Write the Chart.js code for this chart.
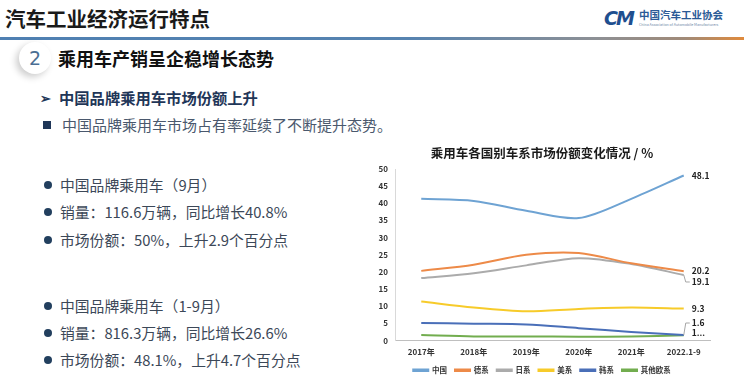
<!DOCTYPE html>
<html>
<head>
<meta charset="utf-8">
<script src="https://cdn.jsdelivr.net/npm/chart.js@4.4.0/dist/chart.umd.min.js"></script>
<style>
  html, body { margin: 0; padding: 0; background: #fff; }
  body { width: 744px; height: 386px; position: relative; overflow: hidden;
         font-family: "Noto Sans CJK SC", "Noto Sans", sans-serif; }
  .abs { position: absolute; white-space: nowrap; }
  #head { left: 5px; top: 3px; font-size: 20.5px; font-weight: bold; color: #1a1a1a; line-height: 30px; }
  #rule { left: 0; top: 37px; width: 744px; height: 3px;
          background: linear-gradient(to right, #4f80b2 0%, #5683b0 55%, #8d9095 80%, #a08a78 92%, #e08a3c 100%); }
  #logoMark { left: 604px; top: 6px; font-size: 19px; font-weight: bold; font-style: italic; color: #1f4f8f;
              font-family: "DejaVu Sans", sans-serif; letter-spacing: -2px; line-height: 24px; }
  #logoCn { left: 639px; top: 8px; font-size: 10.5px; font-weight: bold; color: #2a5a96; line-height: 14px; }
  #logoEn { left: 639px; top: 22px; font-size: 3.6px; color: #6d86a6; line-height: 5px; }
  #badge { left: 19px; top: 42px; width: 32px; height: 32px; border-radius: 50%;
           background: #fff; box-shadow: -3px 3px 7px rgba(0,0,0,0.2);
           text-align: center; line-height: 32px; font-size: 19px; color: #4b6e93; font-family: "DejaVu Sans", sans-serif; }
  #sub { left: 58px; top: 45px; font-size: 18px; font-weight: bold; color: #111; line-height: 26px; }
  #h2 { left: 40px; top: 86px; font-size: 15.3px; font-weight: bold; color: #1f3658; line-height: 22px; }
  #h2 span { font-size: 13px; margin-right: 8px; vertical-align: 1px; }
  #p1 { left: 43px; top: 114px; font-size: 15px; color: #4a586d; line-height: 22px; }
  #p1 span { display: inline-block; width: 8px; height: 8px; background: #1f3658; margin-right: 11px; vertical-align: 2px; }
  .bl { left: 44px; font-size: 14.8px; color: #3c4858; line-height: 22px; }
  .bl i { display: inline-block; width: 8px; height: 8px; border-radius: 50%; background: #223f5e; margin-right: 8px; vertical-align: 2px; }
  #wrap { left: 370px; top: 140px; width: 374px; height: 244px; }
</style>
</head>
<body>
<div class="abs" id="head">汽车工业经济运行特点</div>
<div class="abs" id="logoMark">CM</div>
<div class="abs" id="logoCn">中国汽车工业协会</div>
<div class="abs" id="logoEn">China Association of Automobile Manufacturers</div>
<div class="abs" id="rule"></div>
<div class="abs" id="badge">2</div>
<div class="abs" id="sub">乘用车产销呈企稳增长态势</div>
<div class="abs" id="h2"><span>➢</span>中国品牌乘用车市场份额上升</div>
<div class="abs" id="p1"><span></span>中国品牌乘用车市场占有率延续了不断提升态势。</div>
<div class="abs bl" style="top:174px"><i></i>中国品牌乘用车（9月）</div>
<div class="abs bl" style="top:201px"><i></i>销量：116.6万辆，同比增长40.8%</div>
<div class="abs bl" style="top:229px"><i></i>市场份额：50%，上升2.9个百分点</div>
<div class="abs bl" style="top:295px"><i></i>中国品牌乘用车（1-9月）</div>
<div class="abs bl" style="top:322px"><i></i>销量：816.3万辆，同比增长26.6%</div>
<div class="abs bl" style="top:349px"><i></i>市场份额：48.1%，上升4.7个百分点</div>
<div class="abs" id="wrap"><canvas id="shareChart" width="374" height="244"></canvas></div>

<script>
// 年份
var years = ['2017年', '2018年', '2019年', '2020年', '2021年', '2022.1-9'];
var seriesNames = ['中国', '德系', '日系', '美系', '韩系', '其他欧系'];
// 各车系市场份额 (%)
var china    = [41.3, 40.7, 37.8, 35.7, 41.3, 48.1];
var german   = [20.3, 22.1, 25.0, 25.5, 22.5, 20.2];
var japanese = [18.2, 19.6, 21.9, 24.0, 22.3, 19.1];
var american = [11.4, 9.6, 8.5, 9.2, 9.6, 9.3];
var korean   = [5.1, 4.9, 4.7, 3.6, 2.5, 1.6];
var otherEu  = [1.6, 1.2, 1.2, 1.1, 1.2, 1.5];
var yTicks   = [0, 5, 10, 15, 20, 25, 30, 35, 40, 45, 50];

var seriesValues = [china, german, japanese, american, korean, otherEu];
var colors = ['#6ea3d3', '#ed8a48', '#ababab', '#f7cb2a', '#4a6fb8', '#72ad4f'];

// 末端数据标签
var endLabels = {
    id: 'endLabels',
    afterDatasetsDraw: function (chart) {
        var c = chart.ctx;
        var tweaks = [0, 0, 7, 0, -12, -3];   // 标签上下偏移
        c.save();
        c.font = 'bold 8.5px "Noto Sans CJK SC", sans-serif';
        c.fillStyle = '#222';
        c.textBaseline = 'middle';
        chart.data.datasets.forEach(function (ds, i) {
            var meta = chart.getDatasetMeta(i);
            var pt = meta.data[meta.data.length - 1];
            var v = ds.data[ds.data.length - 1];
            var txt = v.toFixed(1);
            if (i === 5) txt = txt.charAt(0) + '...';
            var ly = pt.y + tweaks[i];
            if (Math.abs(tweaks[i]) > 5) {
                c.strokeStyle = '#a6a6a6';
                c.lineWidth = 1;
                c.beginPath();
                c.moveTo(pt.x, pt.y);
                c.lineTo(pt.x + 2, ly);
                c.lineTo(pt.x + 6, ly);
                c.stroke();
            }
            c.fillText(txt, pt.x + 8, ly);
        });
        c.restore();
    }
};

var ctx = document.getElementById('shareChart').getContext('2d');
var shareChart = new Chart(ctx, {
    type: 'line',
    data: {
        labels: years,
        datasets: seriesValues.map(function (vals, i) {
            return {
                label: seriesNames[i],
                data: vals,
                borderColor: colors[i],
                backgroundColor: colors[i],
                borderWidth: 2,
                pointRadius: 0,
                tension: 0.3,
                fill: false
            };
        })
    },
    options: {
        responsive: false,
        animation: false,
        layout: { padding: { left: 4, right: 34, top: 2, bottom: 0 } },
        plugins: {
            title: {
                display: true,
                text: '乘用车各国别车系市场份额变化情况 / %',
                color: '#1a1a1a',
                font: { family: '"Noto Sans CJK SC", sans-serif', size: 12.5, weight: 'bold' },
                padding: { top: 4, bottom: 8 }
            },
            legend: {
                position: 'bottom',
                labels: {
                    boxWidth: 15,
                    boxHeight: 1.5,
                    padding: 8,
                    color: '#333',
                    font: { family: '"Noto Sans CJK SC", sans-serif', size: 7.5, weight: 'bold' }
                }
            },
            tooltip: { enabled: false }
        },
        scales: {
            x: {
                offset: true,
                afterFit: function (s) { s.height = 18; },
                grid: { display: false, drawTicks: false },
                border: { color: '#bfbfbf', width: 1 },
                ticks: {
                    color: '#333',
                    padding: 7,
                    maxRotation: 0,
                    font: { family: '"Noto Sans CJK SC", sans-serif', size: 8, weight: 'bold' }
                }
            },
            y: {
                min: 0,
                max: 50,
                afterBuildTicks: function (s) { s.ticks = yTicks.map(function (v) { return { value: v }; }); },
                afterFit: function (s) { s.width = 21; },
                grid: { display: false, drawTicks: false },
                border: { color: '#d9d9d9', width: 1 },
                ticks: {
                    color: '#333',
                    padding: 7,
                    font: { family: '"Noto Sans CJK SC", sans-serif', size: 8, weight: 'bold' }
                }
            }
        }
    },
    plugins: [endLabels]
});
</script>
</body>
</html>
